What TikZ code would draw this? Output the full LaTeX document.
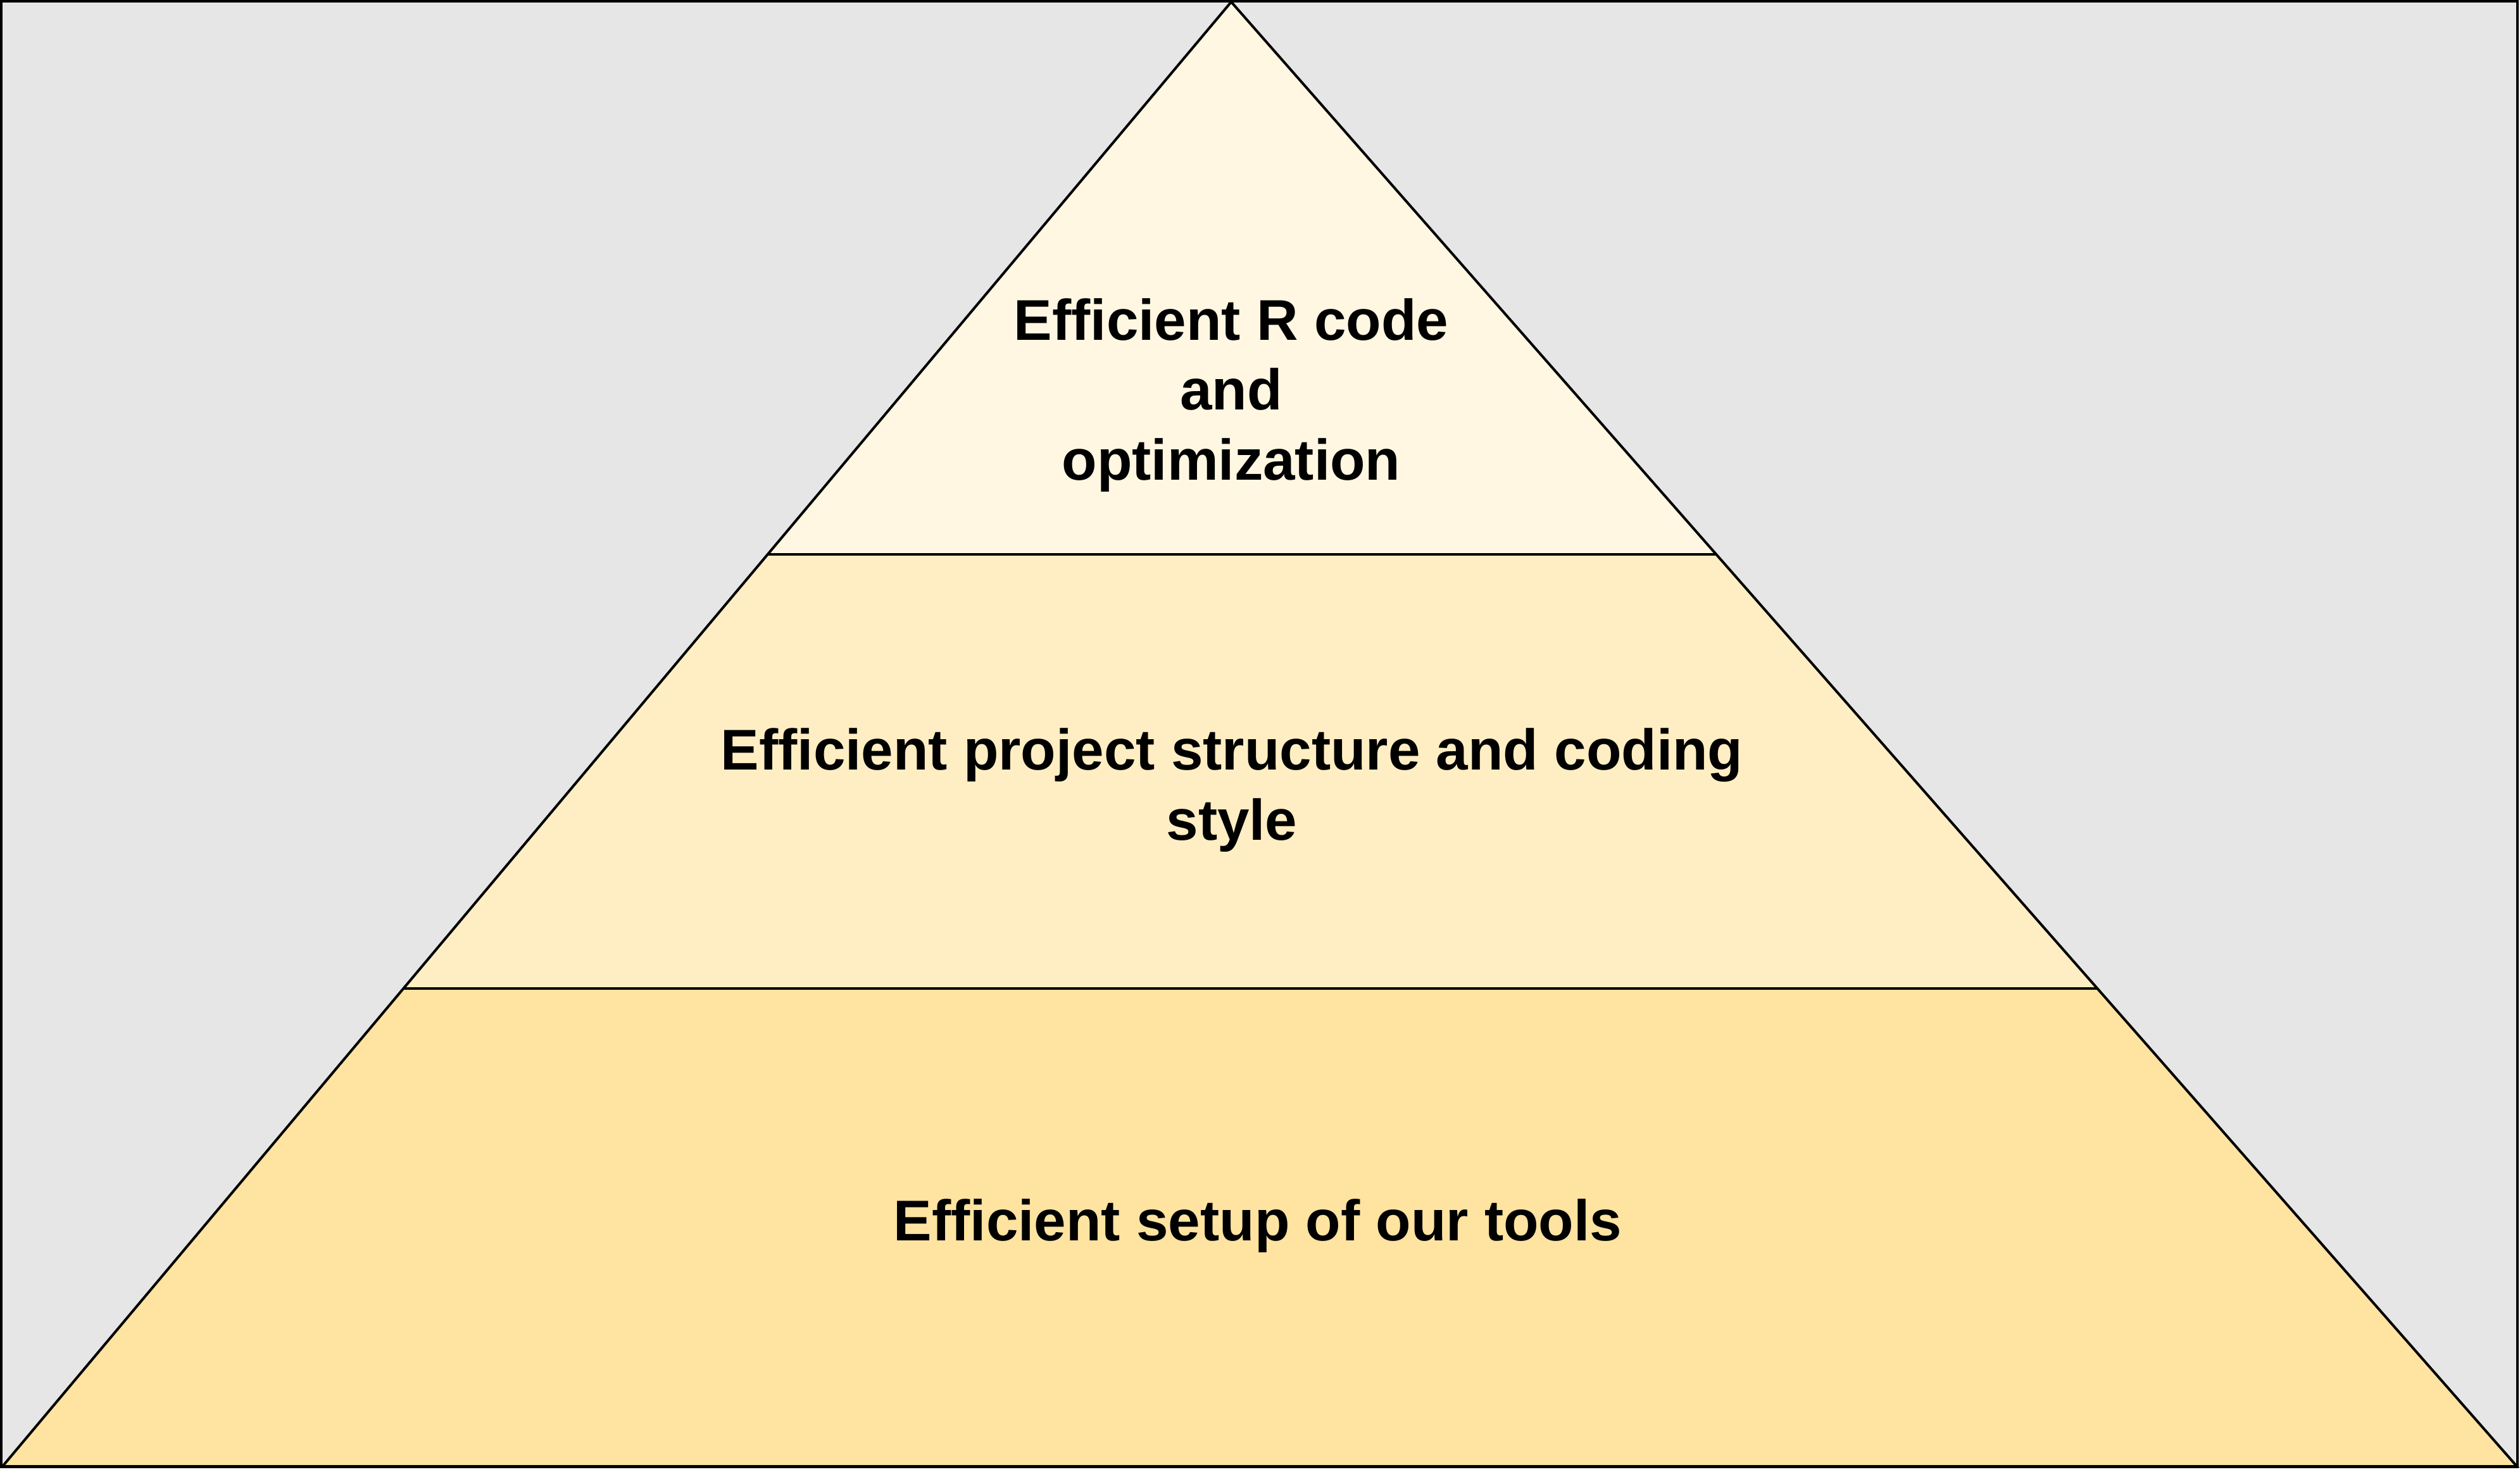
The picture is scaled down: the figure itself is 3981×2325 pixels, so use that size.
\documentclass[tikz,border=0pt]{standalone}
\usepackage{fontspec}
\setmainfont{Liberation Sans}
\usetikzlibrary{calc}
\definecolor{bggray}{HTML}{E6E6E6}
\definecolor{topfill}{HTML}{FFF7E1}
\definecolor{midfill}{HTML}{FFEEC3}
\definecolor{botfill}{HTML}{FFE3A1}
\begin{document}
\begin{tikzpicture}[x=0.25pt,y=-0.25pt,
  edge/.style={draw=black,line width=1pt,line join=miter},
  label/.style={font=\bfseries\fontsize{22.7pt}{27.6pt}\selectfont,align=center,inner sep=0pt,anchor=base,text=black}]
\useasboundingbox (0,0) rectangle (3981,2325);
% frame
\draw[edge,fill=bggray] (2,2) rectangle (3977,2318);
% pyramid corners
\coordinate (A) at (1945,3);
\coordinate (BL) at (4,2317);
\coordinate (BR) at (3976,2317);
\coordinate (L1) at ($(A)!0.37727!(BL)$);
\coordinate (R1) at ($(A)!0.37727!(BR)$);
\coordinate (L2) at ($(A)!0.67372!(BL)$);
\coordinate (R2) at ($(A)!0.67372!(BR)$);
% bands
\fill[topfill] (A) -- (R1) -- (L1) -- cycle;
\fill[midfill] (L1) -- (R1) -- (R2) -- (L2) -- cycle;
\fill[botfill] (L2) -- (R2) -- (BR) -- (BL) -- cycle;
\draw[edge] (A) -- (BR) -- (BL) -- cycle;
\draw[edge] (L1) -- (R1);
\draw[edge] (L2) -- (R2);
% labels (base anchor = baseline of last line)
\node[label] (t1) at (1945,758) {Efficient R code\\and\\optimization};
\node[label] (t2) at (1946,1327) {Efficient project structure and coding\\style};
\node[label] (t3) at (1987,1960) {Efficient setup of our tools};
\end{tikzpicture}
\end{document}
